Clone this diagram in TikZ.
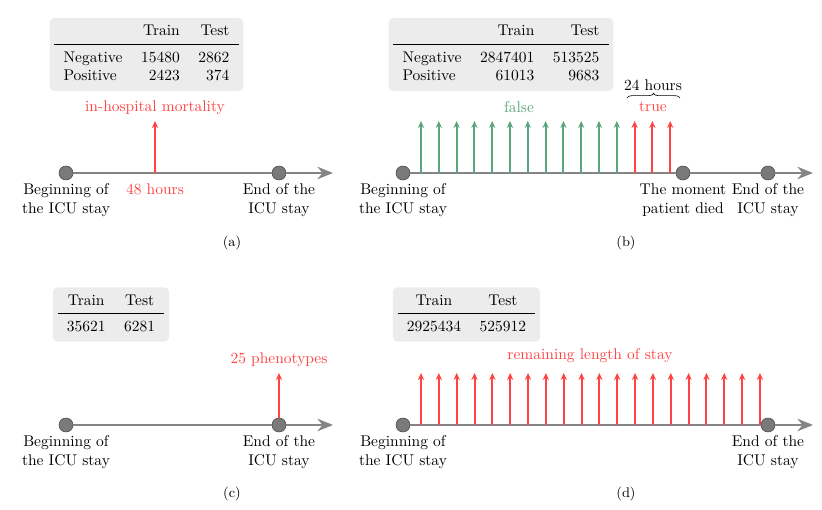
\documentclass[tikz,border=0pt]{standalone}
\usepackage{booktabs}
\usetikzlibrary{arrows.meta,positioning,decorations.pathreplacing}
\definecolor{LineGray}{HTML}{858585}
\definecolor{DotGray}{HTML}{7A7A7A}
\definecolor{TaskRed}{HTML}{FF4242}
\definecolor{TaskGreen}{HTML}{5BA57C}
\definecolor{BoxGray}{HTML}{ECECEC}

\begin{document}
\begin{tikzpicture}[
    x=0.6452pt,y=-0.6452pt,
    event/.style={circle,draw=black!70,fill=DotGray,minimum size=9pt,inner sep=0pt},
    timeline/.style={line width=1.6pt,draw=LineGray},
    timelinearr/.style={timeline,-{Stealth[length=10pt,width=8pt]}},
    redarr/.style={-{Stealth[length=4.5pt,width=4pt]},line width=1.3pt,draw=TaskRed},
    greenarr/.style={redarr,draw=TaskGreen},
    stats/.style={fill=BoxGray,rounded corners=3pt,inner sep=3pt},
    place/.style={align=center,inner sep=2pt},
    redtext/.style={text=TaskRed,inner sep=2pt},
    caption/.style={font=\small}
  ]
    \useasboundingbox (0,0) rectangle (822,510);

    % (a) in-hospital mortality
    \node[stats] (a-table) at (146.5,54.5) {\begin{tabular}{lrr}
        & Train & Test\\ \midrule
        Negative & 15480 & 2862\\
        Positive & 2423 & 374
      \end{tabular}};
    \node[event] (a-start) at (66,173) {};
    \node[event] (a-end) at (279,173) {};
    \coordinate (a-tip) at (333,173);
    \coordinate (a-mark) at (155,173);
    \coordinate (a-top) at (155,121);
    \draw[timeline] (a-start) -- (a-end);
    \draw[timelinearr] (a-end) -- (a-tip);
    \draw[redarr] (a-mark) -- (a-top);
    \node[redtext,above=2pt of a-top] (a-task) {in-hospital mortality};
    \node[redtext,below=5pt of a-mark] (a-hours) {48 hours};
    \node[place,below=0pt of a-start] (a-begin) {Beginning of\\the ICU stay};
    \node[place,below=0pt of a-end] (a-stop) {End of the\\ICU stay};
    \node[caption] (a-cap) at (232,243) {(a)};

    % (b) decompensation
    \node[stats] (b-table) at (501,54.5) {\begin{tabular}{lrr}
        & Train & Test\\ \midrule
        Negative & 2847401 & 513525\\
        Positive & 61013 & 9683
      \end{tabular}};
    \node[event] (b-start) at (403,173) {};
    \node[event] (b-died) at (683,173) {};
    \node[event] (b-end) at (768,173) {};
    \coordinate (b-tip) at (813,173);
    \draw[timeline] (b-start) -- (b-died);
    \draw[timeline] (b-died) -- (b-end);
    \draw[timelinearr] (b-end) -- (b-tip);
    \foreach \i in {0,...,14} {
      \coordinate (b-mark\i) at ({421+17.8*\i},173);
      \coordinate (b-top\i) at ({421+17.8*\i},121);
    }
    \foreach \i in {0,...,11}
      \draw[greenarr] (b-mark\i) -- (b-top\i);
    \foreach \i in {12,13,14}
      \draw[redarr] (b-mark\i) -- (b-top\i);
    \node[text=TaskGreen] (b-false) at (519,107) {false};
    \node[text=TaskRed] (b-true) at (653,107) {true};
    \coordinate (b-left) at (627,98);
    \coordinate (b-right) at (680,98);
    \draw[decorate,decoration={brace,amplitude=3pt}] (b-left) -- (b-right);
    \node (b-hours) at (653,85) {24 hours};
    \node[place,below=0pt of b-start] (b-begin) {Beginning of\\the ICU stay};
    \node[place,below=0pt of b-died] (b-death) {The moment\\patient died};
    \node[place,below=0pt of b-end] (b-stop) {End of the\\ICU stay};
    \node[caption] (b-cap) at (626,243) {(b)};

    % (c) phenotyping
    \node[stats] (c-table) at (111,314.5) {\begin{tabular}{cc}
        Train & Test\\ \midrule
        35621 & 6281
      \end{tabular}};
    \node[event] (c-start) at (66,425) {};
    \node[event] (c-end) at (279,425) {};
    \coordinate (c-tip) at (333,425);
    \coordinate (c-top) at (279,373);
    \draw[timeline] (c-start) -- (c-end);
    \draw[timelinearr] (c-end) -- (c-tip);
    \draw[redarr] (c-end) -- (c-top);
    \node[redtext,above=2pt of c-top] (c-task) {25 phenotypes};
    \node[place,below=0pt of c-start] (c-begin) {Beginning of\\the ICU stay};
    \node[place,below=0pt of c-end] (c-stop) {End of the\\ICU stay};
    \node[caption] (c-cap) at (232,494) {(c)};

    % (d) length of stay
    \node[stats] (d-table) at (466.5,314.5) {\begin{tabular}{cc}
        Train & Test\\ \midrule
        2925434 & 525912
      \end{tabular}};
    \node[event] (d-start) at (403,425) {};
    \node[event] (d-end) at (768,425) {};
    \coordinate (d-tip) at (813,425);
    \draw[timeline] (d-start) -- (d-end);
    \draw[timelinearr] (d-end) -- (d-tip);
    \foreach \i in {0,...,19} {
      \coordinate (d-mark\i) at ({421+17.84*\i},425);
      \coordinate (d-top\i) at ({421+17.84*\i},373);
      \draw[redarr] (d-mark\i) -- (d-top\i);
    }
    \node[text=TaskRed] (d-task) at (590,356) {remaining length of stay};
    \node[place,below=0pt of d-start] (d-begin) {Beginning of\\the ICU stay};
    \node[place,below=0pt of d-end] (d-stop) {End of the\\ICU stay};
    \node[caption] (d-cap) at (626,494) {(d)};
  \end{tikzpicture}
\end{document}
